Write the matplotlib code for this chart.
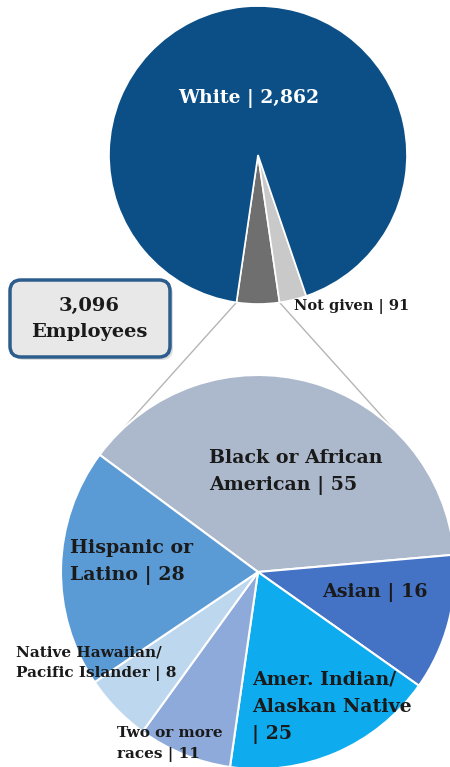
import numpy as np
import matplotlib.pyplot as plt
from matplotlib.patches import FancyBboxPatch

# Data
total_employees = 3096
top_labels = ["Other races", "Not given", "White"]
top_values = [143, 91, 2862]
top_colors = ["#6f6f6f", "#c9c9c9", "#0c4f86"]

bottom_labels = ["Black or African\nAmerican", "Asian", "Amer. Indian/\nAlaskan Native\n",
                 "Two or more\nraces", "Native Hawaiian/\nPacific Islander", "Hispanic or\nLatino"]
bottom_values = [55, 16, 25, 11, 8, 28]
bottom_colors = ["#acb8cb", "#4472c4", "#0eabef", "#8eaadb", "#bdd7ee", "#5b9bd5"]

W, H = 450, 767
FONT = "DejaVu Serif"
DARK = "#1a1a1a"

fig = plt.figure(figsize=(W / 100, H / 100), dpi=100)
ax = fig.add_axes([0, 0, 1, 1])

# top pie (image coords -> y flipped)
top_c = (258, H - 155)
top_r = 149
share = top_values[0] / sum(top_values) * 360
top_start = 270 - share / 2
tw, _ = ax.pie(top_values, colors=top_colors, startangle=top_start, radius=top_r,
               center=top_c, wedgeprops=dict(edgecolor="white", linewidth=1.2))

# bottom pie (breakdown of "Other races")
bot_c = (258, H - 572)
bot_r = 197
bot_start = 143.5
bw, _ = ax.pie(bottom_values, colors=bottom_colors, startangle=bot_start, radius=bot_r,
               center=bot_c, counterclock=False,
               wedgeprops=dict(edgecolor="white", linewidth=1.5))

# connector lines from the "Other races" wedge to the bottom pie
def on_circle(c, r, deg):
    a = np.deg2rad(deg)
    return c[0] + r * np.cos(a), c[1] + r * np.sin(a)

p1 = on_circle(top_c, top_r, tw[0].theta1)
p2 = on_circle(top_c, top_r, tw[0].theta2)
q1 = on_circle(bot_c, bot_r, bot_start)
q2 = on_circle(bot_c, bot_r, 47)
ax.plot([p1[0], q1[0]], [p1[1], q1[1]], color="#b5b5b5", lw=1, zorder=0)
ax.plot([p2[0], q2[0]], [p2[1], q2[1]], color="#b5b5b5", lw=1, zorder=0)

# labels
ax.text(249, H - 99, f"{top_labels[2]} | {top_values[2]:,}", color="white",
        fontsize=13.5, fontweight="bold", family=FONT, ha="center", va="center")
ax.text(294, H - 307, f"{top_labels[1]} | {top_values[1]:,}", color=DARK,
        fontsize=10.5, fontweight="bold", family=FONT, ha="left", va="center")

def lab(i, x, y, size, ls):
    sep = "" if bottom_labels[i].endswith("\n") else " "
    ax.text(x, H - y, f"{bottom_labels[i]}{sep}| {bottom_values[i]}", color=DARK,
            fontsize=size, fontweight="bold", family=FONT, ha="left", va="center",
            linespacing=ls)

lab(0, 209, 472, 13.7, 1.65)
lab(1, 322, 592, 13.7, 1.65)
lab(2, 252, 707, 13.7, 1.65)
lab(3, 117, 744, 11, 1.6)
lab(4, 16, 663, 11, 1.6)
lab(5, 70, 562, 13.7, 1.65)

# total box
shadow = FancyBboxPatch((13, H - 360), 160, 77, boxstyle="round,pad=0,rounding_size=11",
                        facecolor="#bfbfbf", edgecolor="none", alpha=0.5, zorder=2)
box = FancyBboxPatch((10, H - 357), 160, 77, boxstyle="round,pad=0,rounding_size=11",
                     facecolor="#e8e8e8", edgecolor="#2c5d8c", linewidth=2.5, zorder=3)
ax.add_patch(shadow)
ax.add_patch(box)
ax.text(89, H - 319, f"{total_employees:,}\nEmployees", color=DARK, fontsize=14,
        fontweight="bold", family=FONT, ha="center", va="center", linespacing=1.55, zorder=4)

ax.set_xlim(0, W)
ax.set_ylim(0, H)
ax.set_aspect("equal")
ax.axis("off")

fig.savefig("out.png", dpi=100)
